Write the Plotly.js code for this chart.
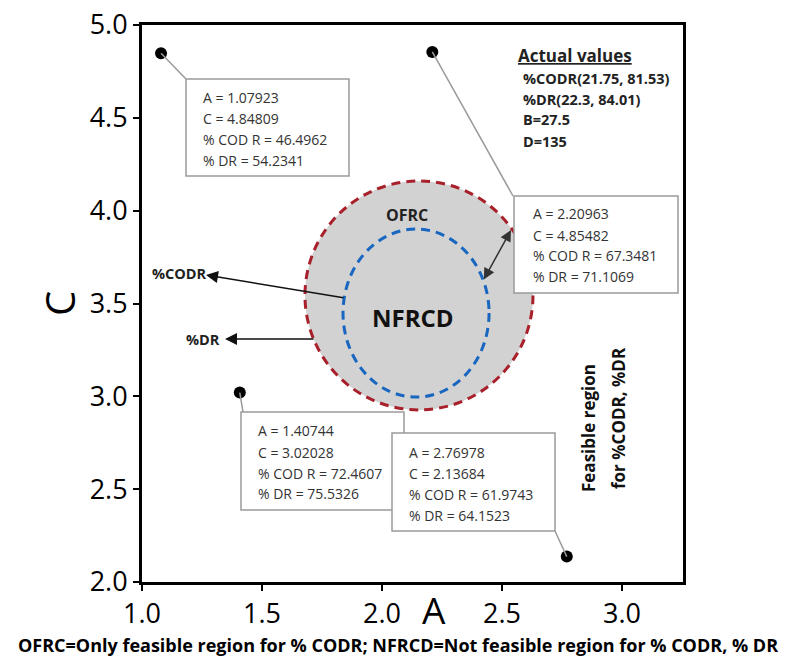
<!DOCTYPE html>
<html>
<head>
<meta charset="utf-8">
<script src="https://cdn.plot.ly/plotly-3.0.1.min.js"></script>
<style>html,body{margin:0;padding:0;background:#fff;}#chart{width:797px;height:659px;}</style>
</head>
<body>
<div id="chart"></div>
<script>
// ---- data ----
const pointA = [1.07923, 2.20963, 1.40744, 2.76978];
const pointC = [4.84809, 4.85482, 3.02028, 2.13684];
const pointCODR = [46.4962, 67.3481, 72.4607, 61.9743];
const pointDR = [54.2341, 71.1069, 75.5326, 64.1523];
const actualTitle = 'Actual values';
const actualLines = ['%CODR(21.75, 81.53)', '%DR(22.3, 84.01)', 'B=27.5', 'D=135'];
const outerRegionA = [1.679, 2.629];   // OFRC boundary extent
const outerRegionC = [2.927, 4.160];
const innerRegionA = [1.8375, 2.446];  // NFRCD boundary extent
const innerRegionC = [2.996, 3.901];
const xTickVals = [1.0, 1.5, 2.0, 2.5, 3.0];
const xTickText = ['1.0', '1.5', '2.0', '2.5', '3.0'];
const yTickVals = [2.0, 2.5, 3.0, 3.5, 4.0, 4.5, 5.0];
const yTickText = ['2.0', '2.5', '3.0', '3.5', '4.0', '4.5', '5.0'];
const xTitle = 'A', yTitle = 'C';
const caption = 'OFRC=Only feasible region for % CODR; NFRCD=Not feasible region for % CODR, % DR';

// ---- layout geometry (pixels) ----
const M = {l: 142, r: 114, t: 25, b: 77};
const W = 797 - M.l - M.r, H = 659 - M.t - M.b;
const xRange = [1.0, 3.254], yRange = [2.0, 5.0];
const fx = px => xRange[0] + (px - M.l) / W * (xRange[1] - xRange[0]);
const fy = py => yRange[1] - (py - M.t) / H * (yRange[1] - yRange[0]);

const boxes = [
  {x0: 186, y0: 79, x1: 349, y1: 176, tx: 201, ty: [97, 118, 139, 160], cx: 186, cy: 79},
  {x0: 514, y0: 196, x1: 678, y1: 293, tx: 531, ty: [213, 235, 255, 276], cx: 513, cy: 196},
  {x0: 241, y0: 412, x1: 404, y1: 510, tx: 256, ty: [430, 452, 473, 493], cx: 243, cy: 412},
  {x0: 392, y0: 433, x1: 555, y1: 531, tx: 407, ty: [452, 473, 494, 515], cx: 555, cy: 531}
];

const FONT = 'Open Sans, DejaVu Sans, sans-serif';
const shapes = [];
const annotations = [];

// regions
shapes.push({type: 'circle', xref: 'x', yref: 'y', layer: 'below',
  x0: outerRegionA[0], x1: outerRegionA[1], y0: outerRegionC[0], y1: outerRegionC[1],
  fillcolor: '#d2d2d2', line: {color: '#a8202a', width: 3, dash: '9px,6px'}});
shapes.push({type: 'circle', xref: 'x', yref: 'y', layer: 'below',
  x0: innerRegionA[0], x1: innerRegionA[1], y0: innerRegionC[0], y1: innerRegionC[1],
  fillcolor: 'rgba(0,0,0,0)', line: {color: '#1866c0', width: 3, dash: '9px,6px'}});

// info boxes + connectors
boxes.forEach((b, i) => {
  shapes.push({type: 'line', xref: 'x', yref: 'y', layer: 'above',
    x0: pointA[i], y0: pointC[i], x1: fx(b.cx), y1: fy(b.cy),
    line: {color: '#9a9a9a', width: 1.5}});
});
boxes.forEach((b, i) => {
  shapes.push({type: 'rect', xref: 'x', yref: 'y', layer: 'above',
    x0: fx(b.x0), x1: fx(b.x1), y0: fy(b.y1), y1: fy(b.y0),
    fillcolor: '#ffffff', line: {color: '#9a9a9a', width: 1.5}});
  const lines = ['A = ' + pointA[i], 'C = ' + pointC[i], '% COD R = ' + pointCODR[i], '% DR = ' + pointDR[i]];
  lines.forEach((t, k) => {
    annotations.push({xref: 'x', yref: 'y', x: fx(b.tx), y: fy(b.ty[k]), text: t, showarrow: false,
      xanchor: 'left', yanchor: 'middle', font: {family: FONT, size: 14, color: '#333333'}});
  });
});

// actual values block
annotations.push({xref: 'x', yref: 'y', x: fx(516), y: fy(55), text: '<b><u>' + actualTitle + '</u></b>',
  showarrow: false, xanchor: 'left', yanchor: 'middle', font: {family: FONT, size: 17, color: '#222'}});
[78, 99, 119, 141].forEach((py, k) => {
  annotations.push({xref: 'x', yref: 'y', x: fx(521), y: fy(py), text: '<b>' + actualLines[k] + '</b>',
    showarrow: false, xanchor: 'left', yanchor: 'middle', font: {family: FONT, size: 14.5, color: '#222'}});
});

// region labels
annotations.push({xref: 'x', yref: 'y', x: fx(407), y: fy(215), text: '<b>OFRC</b>', showarrow: false,
  font: {family: FONT, size: 16, color: '#222'}});
annotations.push({xref: 'x', yref: 'y', x: fx(413), y: fy(317), text: '<b>NFRCD</b>', showarrow: false,
  font: {family: FONT, size: 24, color: '#111'}});

// arrows
annotations.push({xref: 'x', yref: 'y', axref: 'x', ayref: 'y', x: fx(206), y: fy(275), ax: fx(345), ay: fy(298),
  text: '', showarrow: true, arrowhead: 2, arrowsize: 1.6, arrowwidth: 1.5, arrowcolor: '#111', standoff: 0});
annotations.push({xref: 'x', yref: 'y', axref: 'x', ayref: 'y', x: fx(225), y: fy(339), ax: fx(315), ay: fy(339),
  text: '', showarrow: true, arrowhead: 2, arrowsize: 1.6, arrowwidth: 1.5, arrowcolor: '#111', standoff: 0});
annotations.push({xref: 'x', yref: 'y', axref: 'x', ayref: 'y', x: fx(511), y: fy(230), ax: fx(483), ay: fy(281),
  text: '', showarrow: true, arrowside: 'end+start', arrowhead: 2, startarrowhead: 2, arrowsize: 1.5, startarrowsize: 1.5,
  arrowwidth: 1.5, arrowcolor: '#333', standoff: 0, startstandoff: 0});
annotations.push({xref: 'x', yref: 'y', x: fx(179), y: fy(273), text: '<b>%CODR</b>', showarrow: false,
  font: {family: FONT, size: 14.5, color: '#222'}});
annotations.push({xref: 'x', yref: 'y', x: fx(203), y: fy(339), text: '<b>%DR</b>', showarrow: false,
  font: {family: FONT, size: 14.5, color: '#222'}});

// vertical feasible region label
annotations.push({xref: 'x', yref: 'y', x: fx(588), y: fy(428), text: '<b>Feasible region</b>', showarrow: false,
  textangle: -90, font: {family: FONT, size: 17, color: '#111'}});
annotations.push({xref: 'x', yref: 'y', x: fx(618), y: fy(418), text: '<b>for %CODR, %DR</b>', showarrow: false,
  textangle: -90, font: {family: FONT, size: 17, color: '#111'}});

// x axis title (sits between the tick labels) and caption
annotations.push({xref: 'paper', yref: 'paper', x: (434 - M.l) / W, y: (659 - M.b - 609) / H, text: xTitle,
  xanchor: 'center', yanchor: 'middle', showarrow: false, font: {family: FONT, size: 37, color: '#000'}});
annotations.push({xref: 'paper', yref: 'paper', x: (398 - M.l) / W, y: (659 - M.b - 645) / H, text: '<b>' + caption + '</b>',
  xanchor: 'center', yanchor: 'middle', showarrow: false, font: {family: FONT, size: 18, color: '#000'}});

const trace = {
  type: 'scatter', mode: 'markers', x: pointA, y: pointC,
  marker: {color: '#000', size: 12}, cliponaxis: false, hoverinfo: 'x+y'
};

const axisCommon = {
  showgrid: false, zeroline: false, showline: true, linecolor: '#000', linewidth: 3, mirror: true,
  ticks: 'outside', ticklen: 6, tickwidth: 2, tickcolor: '#000',
  tickfont: {family: FONT, size: 27, color: '#000'}
};

const layout = {
  width: 797, height: 659, margin: M, showlegend: false,
  paper_bgcolor: '#fff', plot_bgcolor: '#fff',
  xaxis: Object.assign({}, axisCommon, {range: xRange, tickvals: xTickVals, ticktext: xTickText}),
  yaxis: Object.assign({}, axisCommon, {range: yRange, tickvals: yTickVals, ticktext: yTickText,
    title: {text: yTitle, standoff: 2, font: {family: FONT, size: 40, color: '#000'}}}),
  shapes: shapes, annotations: annotations
};

Plotly.newPlot('chart', [trace], layout, {displayModeBar: false, staticPlot: true});
</script>
</body>
</html>
